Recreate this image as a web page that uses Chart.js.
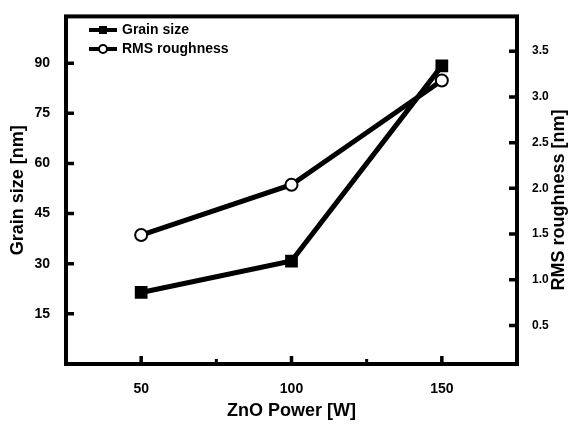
<!DOCTYPE html>
<html>
<head>
<meta charset="utf-8">
<script src="https://cdn.jsdelivr.net/npm/chart.js@4"></script>
<style>
  html, body { margin: 0; padding: 0; background: #fff; }
</style>
</head>
<body>
<canvas id="chart" width="572" height="425"></canvas>
<script>
// values
const powers = [50, 100, 150];
const grainSize = [21.4, 30.8, 89.2];
const rmsRoughness = [1.49, 2.04, 3.18];
const xTicks = [50, 100, 150];
const xMinorTicks = [75, 125];
const grainTicks = [15, 30, 45, 60, 75, 90];
const rmsTicks = [0.5, 1.0, 1.5, 2.0, 2.5, 3.0, 3.5];

const FONT = '"Liberation Sans", Arial, sans-serif';
const tickFont = { family: FONT, size: 14, weight: 'bold' };
const titleFont = { family: FONT, size: 18, weight: 'bold' };

// box, inward tick marks, right title (reads bottom-up) and the in-plot legend
const framePlugin = {
  id: 'frame',
  afterDraw(chart) {
    const { ctx, chartArea: a, scales } = chart;
    ctx.save();
    ctx.strokeStyle = '#000';
    ctx.lineWidth = 4;
    ctx.strokeRect(a.left, a.top, a.right - a.left, a.bottom - a.top);

    ctx.lineWidth = 3.5;
    ctx.beginPath();
    grainTicks.forEach(v => {
      const y = scales.y.getPixelForValue(v);
      ctx.moveTo(a.left, y); ctx.lineTo(a.left + 8, y);
    });
    rmsTicks.forEach(v => {
      const y = scales.y1.getPixelForValue(v);
      ctx.moveTo(a.right, y); ctx.lineTo(a.right - 8, y);
    });
    xTicks.forEach(v => {
      const x = scales.x.getPixelForValue(v);
      ctx.moveTo(x, a.bottom); ctx.lineTo(x, a.bottom - 8);
    });
    ctx.stroke();
    ctx.lineWidth = 3;
    ctx.beginPath();
    xMinorTicks.forEach(v => {
      const x = scales.x.getPixelForValue(v);
      ctx.moveTo(x, a.bottom); ctx.lineTo(x, a.bottom - 5);
    });
    ctx.stroke();

    // right axis title
    ctx.save();
    ctx.translate(559, 200);
    ctx.rotate(-Math.PI / 2);
    ctx.font = 'bold 18px ' + FONT;
    ctx.textAlign = 'center';
    ctx.textBaseline = 'middle';
    ctx.fillStyle = '#000';
    ctx.fillText('RMS roughness [nm]', 0, 0);
    ctx.restore();

    // legend
    const items = [
      { text: 'Grain size', y: 30, style: 'rect' },
      { text: 'RMS roughness', y: 49, style: 'circle' }
    ];
    ctx.font = 'bold 14px ' + FONT;
    ctx.textBaseline = 'middle';
    ctx.fillStyle = '#000';
    items.forEach(it => {
      ctx.lineWidth = 4;
      ctx.beginPath();
      ctx.moveTo(89, it.y); ctx.lineTo(117, it.y);
      ctx.stroke();
      if (it.style === 'rect') {
        ctx.fillRect(99, it.y - 4, 8, 8);
      } else {
        ctx.beginPath();
        ctx.arc(103, it.y, 4, 0, Math.PI * 2);
        ctx.fillStyle = '#fff';
        ctx.fill();
        ctx.lineWidth = 2;
        ctx.stroke();
        ctx.fillStyle = '#000';
      }
      ctx.fillText(it.text, 122, it.y);
    });
    ctx.restore();
  }
};

new Chart(document.getElementById('chart'), {
  type: 'line',
  data: {
    datasets: [
      {
        label: 'RMS roughness',
        data: powers.map((p, i) => ({ x: p, y: rmsRoughness[i] })),
        yAxisID: 'y1',
        borderColor: '#000',
        borderWidth: 5,
        pointStyle: 'circle',
        pointRadius: 6,
        pointBackgroundColor: '#fff',
        pointBorderColor: '#000',
        pointBorderWidth: 2,
        tension: 0,
        order: 0
      },
      {
        label: 'Grain size',
        data: powers.map((p, i) => ({ x: p, y: grainSize[i] })),
        yAxisID: 'y',
        borderColor: '#000',
        borderWidth: 5,
        pointStyle: 'rect',
        pointRadius: 9,
        pointBackgroundColor: '#000',
        pointBorderWidth: 0,
        tension: 0,
        order: 1
      }
    ]
  },
  options: {
    responsive: false,
    animation: false,
    devicePixelRatio: 1,
    layout: { padding: { top: 13, left: 0, right: 0, bottom: 0 } },
    plugins: { legend: { display: false }, tooltip: { enabled: false } },
    scales: {
      x: {
        type: 'linear', min: 25, max: 175,
        grid: { display: false }, border: { display: false },
        afterBuildTicks: s => { s.ticks = xTicks.map(v => ({ value: v })); },
        afterFit: s => { s.height = 61; },
        ticks: { font: tickFont, color: '#000', padding: 9, maxRotation: 0 },
        title: { display: true, text: 'ZnO Power [W]', font: titleFont, color: '#000', padding: { top: 0, bottom: 3 } }
      },
      y: {
        type: 'linear', position: 'left', min: 0, max: 104,
        grid: { display: false }, border: { display: false },
        afterBuildTicks: s => { s.ticks = grainTicks.map(v => ({ value: v })); },
        afterFit: s => { s.width = 66; },
        ticks: { font: tickFont, color: '#000', padding: 8 },
        title: { display: true, text: 'Grain size [nm]', font: titleFont, color: '#000', padding: { top: 7, bottom: 0 } }
      },
      y1: {
        type: 'linear', position: 'right', min: 0.08, max: 3.88,
        grid: { display: false }, border: { display: false },
        afterBuildTicks: s => { s.ticks = rmsTicks.map(v => ({ value: v })); },
        afterFit: s => { s.width = 55; },
        ticks: { font: { family: FONT, size: 12, weight: 'bold' }, color: '#000', padding: 7,
                 callback: v => v.toFixed(1) },
        title: { display: false }
      }
    }
  },
  plugins: [framePlugin]
});
</script>
</body>
</html>
